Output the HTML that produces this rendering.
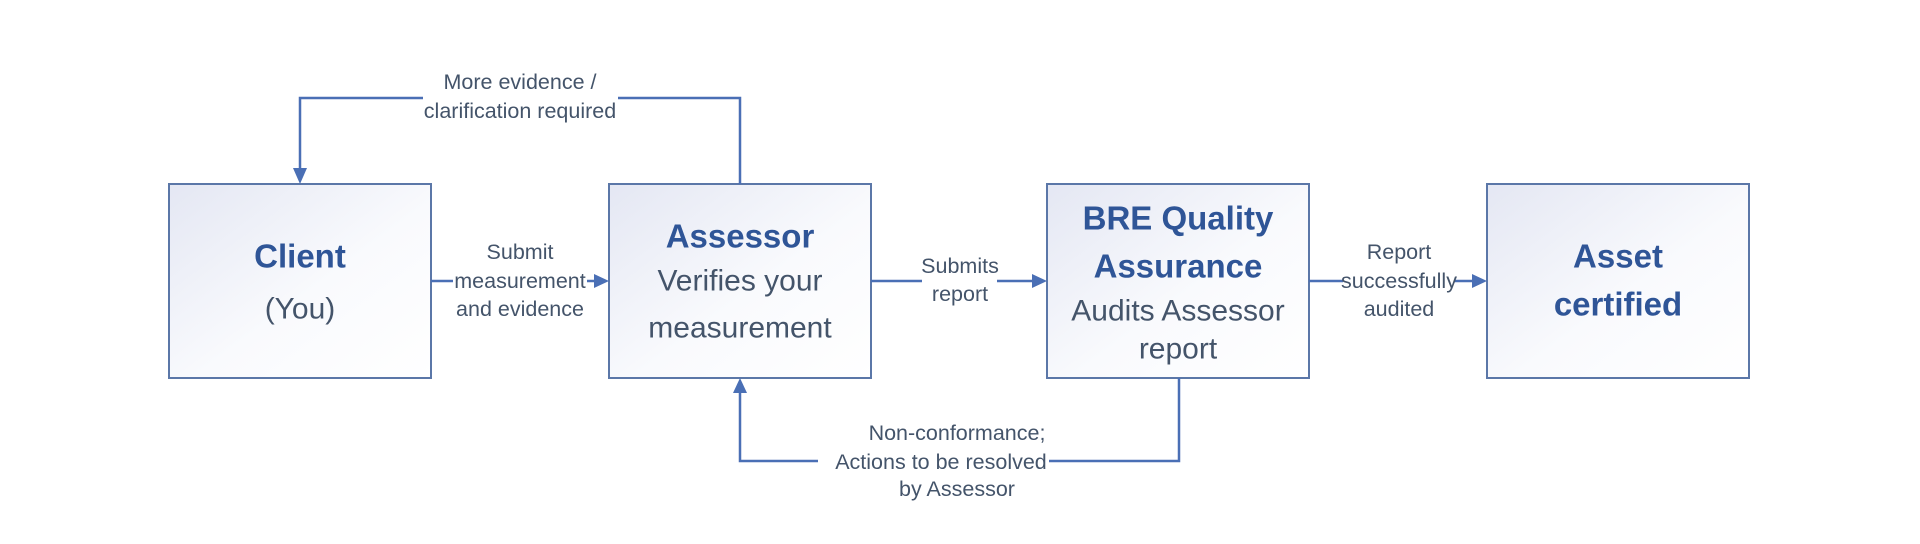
<!DOCTYPE html>
<html><head><meta charset="utf-8"><style>
html,body{margin:0;padding:0;background:#fff;}
svg{display:block;}
text{font-family:"Liberation Sans",Arial,sans-serif;}
.t{font-weight:bold;fill:#2f5597;font-size:33px;}
.s{fill:#44546a;font-size:30px;}
.l{fill:#44546a;font-size:21.5px;}
</style></head><body>
<svg width="1920" height="544" viewBox="0 0 1920 544" xmlns="http://www.w3.org/2000/svg">
<defs>
<linearGradient id="g" x1="0" y1="0" x2="1" y2="1">
<stop offset="0" stop-color="#e4e7f3"/><stop offset="0.55" stop-color="#f9fafd"/><stop offset="1" stop-color="#ffffff"/>
</linearGradient>
</defs>
<g fill="url(#g)" stroke="#5b77a8" stroke-width="2">
<rect x="169" y="184" width="262" height="194"/>
<rect x="609" y="184" width="262" height="194"/>
<rect x="1047" y="184" width="262" height="194"/>
<rect x="1487" y="184" width="262" height="194"/>
</g>
<g stroke="#4a6fb5" stroke-width="2.5" fill="none">
<polyline points="423,98 300,98 300,170"/>
<polyline points="618,98 740,98 740,184"/>
<polyline points="1179,378 1179,461 1049,461"/>
<polyline points="818,461 740,461 740,393"/>
<line x1="431" y1="281" x2="453" y2="281"/>
<line x1="587" y1="281" x2="596" y2="281"/>
<line x1="871" y1="281" x2="922" y2="281"/>
<line x1="997" y1="281" x2="1034" y2="281"/>
<line x1="1309" y1="281" x2="1343" y2="281"/>
<line x1="1454" y1="281" x2="1474" y2="281"/>
</g>
<g fill="#4a6fb5">
<polygon points="293,168 307,168 300,184"/>
<polygon points="733,393 747,393 740,378"/>
<polygon points="594,274 594,288 609,281"/>
<polygon points="1032,274 1032,288 1047,281"/>
<polygon points="1472,274 1472,288 1487,281"/>
</g>
<g text-anchor="middle" dominant-baseline="central">
<text class="t" x="300" y="256">Client</text>
<text class="s" x="300" y="309">(You)</text>
<text class="t" x="740" y="236">Assessor</text>
<text class="s" x="740" y="281">Verifies your</text>
<text class="s" x="740" y="328">measurement</text>
<text class="t" x="1178" y="218">BRE Quality</text>
<text class="t" x="1178" y="266">Assurance</text>
<text class="s" x="1178" y="311">Audits Assessor</text>
<text class="s" x="1178" y="349">report</text>
<text class="t" x="1618" y="256">Asset</text>
<text class="t" x="1618" y="304">certified</text>
<text class="l" x="520" y="82">More evidence /</text>
<text class="l" x="520" y="111">clarification required</text>
<text class="l" x="520" y="252">Submit</text>
<text class="l" x="520" y="281">measurement</text>
<text class="l" x="520" y="309">and evidence</text>
<text class="l" x="960" y="266">Submits</text>
<text class="l" x="960" y="294">report</text>
<text class="l" x="1399" y="252">Report</text>
<text class="l" x="1399" y="281">successfully</text>
<text class="l" x="1399" y="309">audited</text>
<text class="l" x="957" y="433">Non-conformance;</text>
<text class="l" x="941" y="462">Actions to be resolved</text>
<text class="l" x="957" y="489">by Assessor</text>
</g>
</svg>
</body></html>
